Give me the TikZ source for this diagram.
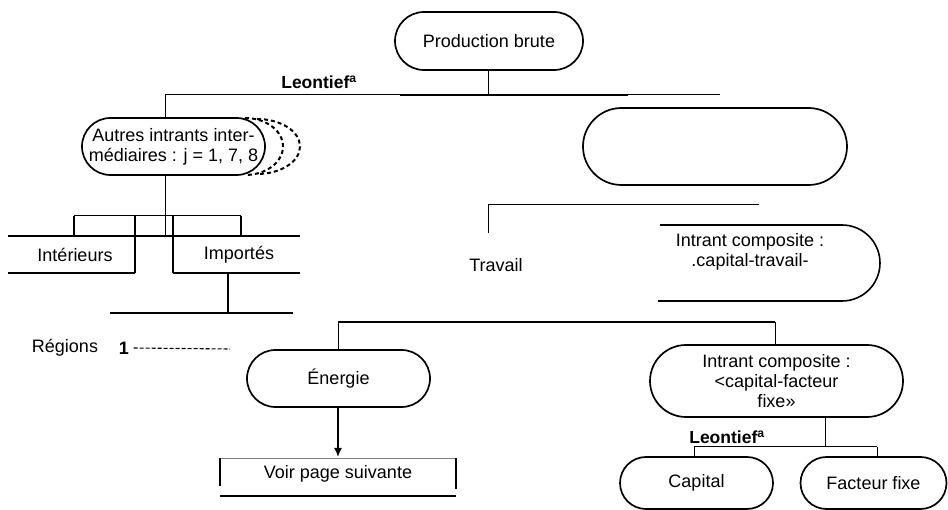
\documentclass[tikz,border=0pt]{standalone}
\usepackage{fontspec}
\setmainfont{Liberation Sans}
\usetikzlibrary{positioning,arrows.meta,shapes.misc}
\newcommand{\labfont}{\fontsize{18}{20}\selectfont}
\newcommand{\leofont}{\bfseries\fontsize{17.5}{19}\selectfont}

\begin{document}
\begin{tikzpicture}[x=1pt,y=-1pt,line width=1pt,align=center,
    pill/.style={rounded rectangle,draw,line width=1.7pt,inner sep=0pt,font=\labfont},
    txt/.style={font=\labfont,inner sep=1pt},
    leo/.style={font=\leofont,inner sep=1pt},
    heavy/.style={line width=2.1pt},
    boxline/.style={line width=1.6pt}]
  \useasboundingbox (0,0) rectangle (948,510);
  % noeuds
  \node[pill,minimum width=188pt,minimum height=58pt] (prod) at (489,41) {Production brute};
  \node[leo] (leo1) at (319,82) {Leontief\textsuperscript{a}};
  \node[pill,minimum width=183pt,minimum height=57pt] (autres) at (173.5,146.5)
    {Autres intrants inter-\\médiaires : j = 1, 7, 8};
  \node[pill,minimum width=264pt,minimum height=77pt] (vide) at (715,146.5) {};
  \node[txt] (inter) at (75,255) {Intérieurs};
  \node[txt] (impo) at (239,255) {Importés};
  \node[txt] (trav) at (496,265) {Travail};
  \node[txt] (ctrav) at (750,252) {Intrant composite :\\.capital-travail-};
  \node[txt] (reg) at (65,348) {Régions};
  \node[txt,font=\labfont\bfseries] (un) at (124,348) {1};
  \node[pill,minimum width=183pt,minimum height=57pt] (ener) at (338.5,378.5) {Énergie};
  \node[txt] (voir) at (338,474) {Voir page suivante};
  \node[pill,minimum width=253pt,minimum height=72pt] (cfix) at (776.5,381)
    {Intrant composite :\\<capital-facteur\\fixe»};
  \node[leo] (leo2) at (727,437) {Leontief\textsuperscript{a}};
  \node[pill,minimum width=153pt,minimum height=52pt] (cap) at (696.5,483) {Capital};
  \node[pill,minimum width=146pt,minimum height=52pt] (ffix) at (873.5,483) {Facteur fixe};

  % barres
  \coordinate (b1l) at (165,95);
  \coordinate (b1r) at (720,95);
  \coordinate (b1a) at (400,95);
  \coordinate (b1b) at (628,95);
  \draw (b1l) -- (b1r);
  \draw[heavy] (b1a) -- (b1b);
  \draw (prod.south -| 488,0) -- (488,95);
  \draw (b1l) -- (b1l |- autres.north);

  % autres intrants en pointilles
  \draw[line width=2pt,dash pattern=on 4pt off 3pt] (245,118)
    arc[start angle=-90,end angle=90,x radius=38,y radius=28.5];
  \draw[line width=2pt,dash pattern=on 4pt off 3pt] (257,119)
    arc[start angle=-90,end angle=90,x radius=43,y radius=27.5];

  \coordinate (b2l) at (8,236);
  \coordinate (b2r) at (300,236);
  \coordinate (brl) at (74,216);
  \coordinate (brr) at (241,216);
  \draw (b1l |- autres.south) -- (b1l |- b2l);
  \draw (brl) -- (brr);
  \draw[boxline] (brl) -- (brl |- b2l);
  \draw[boxline] (brr) -- (brr |- b2l);
  \draw[heavy] (b2l) -- (b2r);
  \draw[boxline] (135,216) -- (135,273);
  \draw[boxline] (173,216) -- (173,273);
  \draw[heavy] (8,273) -- (135,273);
  \draw[heavy] (173,273) -- (300,273);
  \coordinate (b3) at (228,313);
  \draw[boxline] (228,273) -- (b3);
  \draw[boxline] (110,313) -- (293,313);
  \coordinate (regend) at (230,349);
  \draw[line width=1.1pt,dash pattern=on 4pt off 2pt] (un.east) ++(3,0) -- (regend);

  % partie droite
  \coordinate (b4l) at (488,205);
  \coordinate (b4r) at (759,205);
  \coordinate (trtop) at (488,233);
  \draw (b4r) -- (b4l) -- (trtop);
  \draw[boxline] (660,225) -- (842,225) arc[start angle=-90,end angle=90,radius=38] -- (658,301);
  \draw[heavy] (658,301) -- (836,301);

  \coordinate (b5l) at (338,322);
  \coordinate (b5r) at (775,322);
  \draw[heavy] (b5l) -- (b5r);
  \draw (b5l) -- (b5l |- ener.north);
  \draw (b5r) -- (b5r |- cfix.north);

  % energie
  \coordinate (v1) at (220,458);
  \coordinate (v2) at (456,458);
  \draw[boxline,-{Latex[length=9pt,width=8pt]}] (ener.south -| 338,0) -- (338,457);
  \draw[gray,line width=0.6pt] (v1) -- (v2);
  \draw[boxline] (v1) -- (220,486);
  \draw[boxline] (v2) -- (456,489);
  \draw[heavy] (220,496) -- (456,496);

  % capital - facteur fixe
  \coordinate (b6) at (825,447);
  \coordinate (b6l) at (694,447);
  \coordinate (b6r) at (877,447);
  \draw (b6 |- cfix.south) -- (b6);
  \draw (b6l) -- (b6r);
  \draw (b6l) -- (b6l |- cap.north);
  \draw (b6r) -- (b6r |- ffix.north);
\end{tikzpicture}
\end{document}
